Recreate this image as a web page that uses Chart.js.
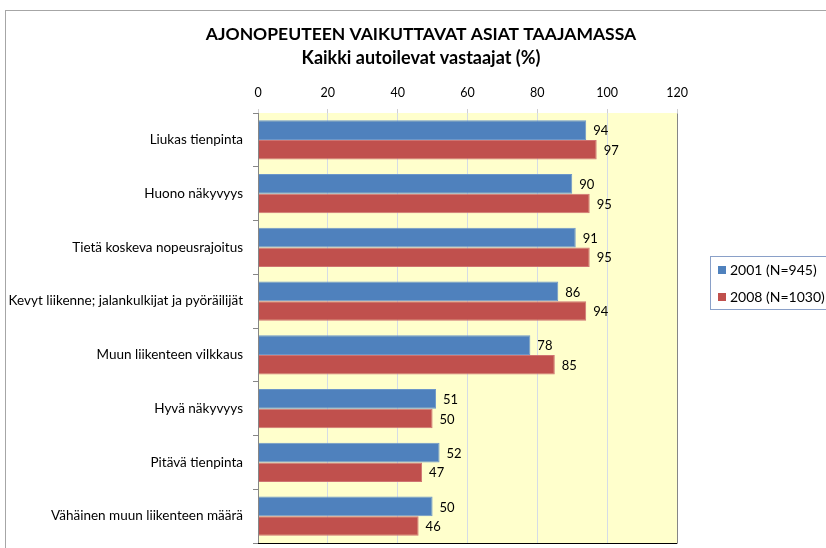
<!DOCTYPE html>
<html>
<head>
<meta charset="utf-8">
<script src="https://cdn.jsdelivr.net/npm/chart.js@4"></script>
<style>
  html, body { margin: 0; padding: 0; background: #fff; }
  #wrap { width: 826px; height: 548px; }
</style>
</head>
<body>
<div id="wrap"><canvas id="speedChart" width="826" height="548"></canvas></div>
<script>
// data
var categories = [
    'Liukas tienpinta',
    'Huono näkyvyys',
    'Tietä koskeva nopeusrajoitus',
    'Kevyt liikenne; jalankulkijat ja pyöräilijät',
    'Muun liikenteen vilkkaus',
    'Hyvä näkyvyys',
    'Pitävä tienpinta',
    'Vähäinen muun liikenteen määrä'
];
var values2001 = [94, 90, 91, 86, 78, 51, 52, 50];
var values2008 = [97, 95, 95, 94, 85, 50, 47, 46];
var seriesNames = ['2001 (N=945)', '2008 (N=1030)'];
var titleLines = ['AJONOPEUTEEN VAIKUTTAVAT ASIAT TAAJAMASSA', 'Kaikki autoilevat vastaajat (%)'];

var FONT = 'Lato, "Open Sans", sans-serif';

// plot background, frame, outer border, title and custom legend
var decorations = {
    id: 'decorations',
    beforeDraw: function (chart) {
        var c = chart.ctx, a = chart.chartArea;
        c.save();
        c.fillStyle = '#ffffff';
        c.fillRect(0, 0, chart.width, chart.height);
        c.fillStyle = '#FFFFCC';
        c.fillRect(a.left, a.top, a.right - a.left, a.bottom - a.top);
        c.strokeStyle = '#a6a6a6';
        c.lineWidth = 1;
        c.strokeRect(5.5, 10.5, chart.width + 20, chart.height + 20);

        // title, centred over the whole chart box
        c.fillStyle = '#000000';
        c.textAlign = 'center';
        c.textBaseline = 'middle';
        c.font = 'bold 17.5px ' + FONT;
        c.fillText(titleLines[0], 421, 34);
        c.font = 'bold 18px ' + FONT;
        c.fillText(titleLines[1], 421, 58);
        c.restore();
    },
    afterDraw: function (chart) {
        var c = chart.ctx, a = chart.chartArea;
        c.save();
        c.strokeStyle = '#868686';
        c.lineWidth = 1;
        c.beginPath();
        c.moveTo(a.left + 0.5, a.top);
        c.lineTo(a.left + 0.5, a.bottom + 0.5);
        c.lineTo(a.right + 0.5, a.bottom + 0.5);
        c.lineTo(a.right + 0.5, a.top + 0.5);
        c.stroke();
        c.strokeStyle = '#000000';
        c.beginPath();
        c.moveTo(a.left, a.bottom + 0.5);
        c.lineTo(a.right, a.bottom + 0.5);
        c.stroke();

        // legend
        var lx = 710, ly = 256;
        c.strokeStyle = '#8aa0c8';
        c.strokeRect(lx + 0.5, ly + 0.5, 140, 53);
        c.font = '14px ' + FONT;
        c.textBaseline = 'middle';
        c.textAlign = 'left';
        chart.data.datasets.forEach(function (ds, i) {
            var y = ly + 14 + i * 27;
            c.fillStyle = ds.backgroundColor;
            c.fillRect(lx + 8, y - 4, 8, 8);
            c.fillStyle = '#000000';
            c.fillText(ds.label, lx + 20, y);
        });
        c.restore();
    }
};

// value labels next to bar ends
var valueLabels = {
    id: 'valueLabels',
    afterDatasetsDraw: function (chart) {
        var c = chart.ctx;
        c.save();
        c.font = '13px ' + FONT;
        c.fillStyle = '#000000';
        c.textAlign = 'left';
        c.textBaseline = 'middle';
        chart.data.datasets.forEach(function (ds, i) {
            chart.getDatasetMeta(i).data.forEach(function (bar, j) {
                c.fillText(ds.data[j], bar.x + 7, bar.y + 1);
            });
        });
        c.restore();
    }
};

var ctx = document.getElementById('speedChart').getContext('2d');
var chart = new Chart(ctx, {
    type: 'bar',
    data: {
        labels: categories,
        datasets: [{
            label: seriesNames[0],
            backgroundColor: '#4F81BD',
            borderColor: '#6d97c9',
            borderWidth: 1,
            data: values2001
        }, {
            label: seriesNames[1],
            backgroundColor: '#C0504D',
            borderColor: '#cf7472',
            borderWidth: 1,
            data: values2008
        }]
    },
    options: {
        indexAxis: 'y',
        responsive: false,
        animation: false,
        devicePixelRatio: 1,
        layout: { autoPadding: false, padding: { left: 0, right: 149, top: 85, bottom: 5 } },
        datasets: {
            bar: { barPercentage: 1.0, categoryPercentage: 0.73 }
        },
        plugins: {
            legend: { display: false },
            tooltip: { enabled: false },
            title: { display: false }
        },
        scales: {
            x: {
                position: 'top',
                min: 0,
                max: 120,
                afterFit: function (scale) { scale.height = 28; },
                ticks: {
                    stepSize: 20,
                    color: '#000000',
                    font: { family: FONT, size: 12.5 },
                    padding: 9
                },
                grid: {
                    color: '#d5dce6',
                    tickColor: '#d0d0d0',
                    tickLength: 4
                },
                border: { display: false }
            },
            y: {
                afterFit: function (scale) {
                    scale.width = 258;
                    scale.paddingTop = 0;
                    scale.paddingBottom = 0;
                },
                ticks: {
                    color: '#000000',
                    font: { family: FONT, size: 13.5 },
                    padding: 10
                },
                grid: {
                    offset: true,
                    drawOnChartArea: false,
                    color: '#868686',
                    tickLength: 5
                },
                border: { color: '#868686' }
            }
        }
    },
    plugins: [decorations, valueLabels]
});
</script>
</body>
</html>
